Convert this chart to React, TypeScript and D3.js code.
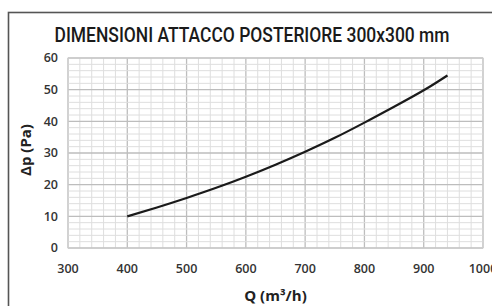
import React, { useEffect, useRef } from 'react';
import * as d3 from 'd3';

// portata Q (m3/h) e perdita di carico dp (Pa)
const flowQ = [400, 450, 500, 550, 600, 650, 700, 750, 800, 850, 900, 940];
const pressureDrop = [10, 12.8, 15.8, 19, 22.5, 26.3, 30.4, 34.8, 39.6, 44.6, 49.8, 54.5];
const xTicks = [300, 400, 500, 600, 700, 800, 900, 1000];
const yTicks = [0, 10, 20, 30, 40, 50, 60];

const chartTitle = 'DIMENSIONI ATTACCO POSTERIORE 300x300 mm';
const xTitle = 'Q (m³/h)';
const yTitle = 'Δp (Pa)';

const W = 492;
const H = 306;

const App = () => {
  const ref = useRef<SVGSVGElement | null>(null);

  useEffect(() => {
    const svg = d3.select(ref.current);
    svg.selectAll('*').remove();

    const margin = { top: 58, right: 9, bottom: 58, left: 68 };
    const width = W - margin.left - margin.right;
    const height = H - margin.top - margin.bottom;

    // cornice esterna
    svg.append('rect')
      .attr('x', 8.5)
      .attr('y', 12.5)
      .attr('width', W + 20)
      .attr('height', H + 20)
      .attr('fill', '#fff')
      .attr('stroke', '#555')
      .attr('stroke-width', 1.6);

    // titolo stretto orizzontalmente per imitare il font condensato
    const title = svg.append('text')
      .attr('text-anchor', 'middle')
      .style('font-family', 'Roboto, sans-serif')
      .style('font-weight', 500)
      .style('font-size', '19.5px')
      .style('fill', '#1a1a1a')
      .text(chartTitle);
    const natural = (title.node() as SVGTextElement).getComputedTextLength() || 395;
    title.attr('transform', `translate(252, 42) scale(${Math.min(1, 395 / natural)}, 1)`);

    const g = svg.append('g')
      .attr('transform', `translate(${margin.left}, ${margin.top})`);

    const xScale = d3.scaleLinear().domain([300, 1000]).range([0, width]);
    const yScale = d3.scaleLinear().domain([0, 60]).range([height, 0]);

    // griglia: minore ogni 20 m3/h e 2 Pa, principale ogni 100 e 10
    const minorX = d3.range(300, 1001, 20);
    const minorY = d3.range(0, 61, 2);
    g.selectAll('.vminor')
      .data(minorX)
      .enter().append('line')
      .attr('x1', d => xScale(d)).attr('x2', d => xScale(d))
      .attr('y1', 0).attr('y2', height)
      .attr('stroke', d => (d % 100 === 0 ? '#bdbdbd' : '#dedede'))
      .attr('stroke-width', d => (d % 100 === 0 ? 1.3 : 1));
    g.selectAll('.hminor')
      .data(minorY)
      .enter().append('line')
      .attr('y1', d => yScale(d)).attr('y2', d => yScale(d))
      .attr('x1', 0).attr('x2', width)
      .attr('stroke', d => (d % 10 === 0 ? '#bdbdbd' : '#dedede'))
      .attr('stroke-width', d => (d % 10 === 0 ? 1.3 : 1));

    g.append('rect')
      .attr('width', width).attr('height', height)
      .attr('fill', 'none')
      .attr('stroke', '#cfcfcf');

    const tickFont = '"Open Sans", sans-serif';

    g.selectAll('.xt')
      .data(xTicks)
      .enter().append('text')
      .attr('x', d => xScale(d))
      .attr('y', height + 25)
      .attr('text-anchor', 'middle')
      .style('font-family', tickFont)
      .style('font-weight', 600)
      .style('font-size', '12.5px')
      .style('fill', '#333')
      .text(d => d);

    g.selectAll('.yt')
      .data(yTicks)
      .enter().append('text')
      .attr('x', -10)
      .attr('y', d => yScale(d))
      .attr('dy', '0.35em')
      .attr('text-anchor', 'end')
      .style('font-family', tickFont)
      .style('font-weight', 600)
      .style('font-size', '12.5px')
      .style('fill', '#333')
      .text(d => d);

    const line = d3.line<number>()
      .x((d, i) => xScale(flowQ[i]))
      .y(d => yScale(d))
      .curve(d3.curveNatural);

    g.append('path')
      .datum(pressureDrop)
      .attr('d', line)
      .attr('fill', 'none')
      .attr('stroke', '#1a1a1a')
      .attr('stroke-width', 2.2);

    g.append('text')
      .attr('x', width / 2)
      .attr('y', height + 53)
      .attr('text-anchor', 'middle')
      .style('font-family', tickFont)
      .style('font-weight', 700)
      .style('font-size', '15px')
      .style('fill', '#222')
      .text(xTitle);

    g.append('text')
      .attr('transform', 'rotate(-90)')
      .attr('x', -92)
      .attr('y', -37)
      .attr('text-anchor', 'middle')
      .style('font-family', tickFont)
      .style('font-weight', 700)
      .style('font-size', '15px')
      .style('fill', '#222')
      .text(yTitle);
  }, []);

  return (
    <svg
      ref={ref}
      width={W}
      height={H}
      style={{ position: 'absolute', left: 0, top: 0, background: '#fff' }}
    />
  );
};

export default App;
